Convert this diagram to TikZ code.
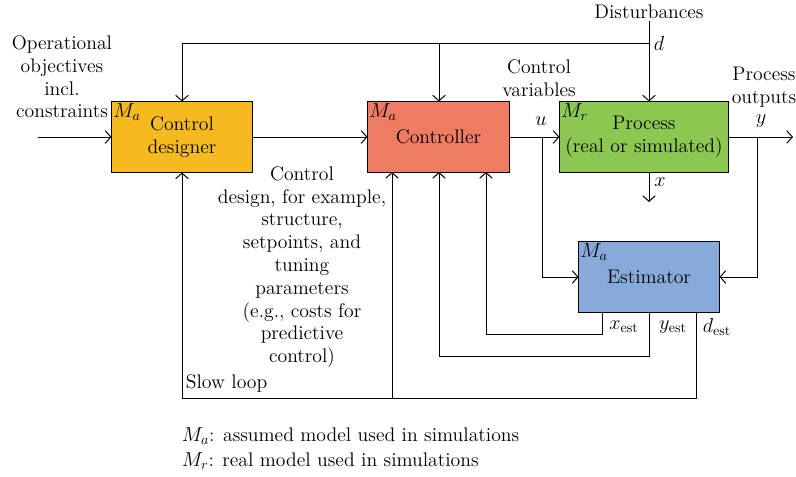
\documentclass[tikz,border=0pt]{standalone}
\usepackage{tikz}
\usetikzlibrary{arrows.meta}

\definecolor{desfill}{HTML}{F5BA1F}
\definecolor{ctrlfill}{HTML}{EE7C62}
\definecolor{procfill}{HTML}{8CC751}
\definecolor{estfill}{HTML}{88AADA}

\begin{document}
\begin{tikzpicture}[x=0.025cm, y=-0.025cm, line width=0.7pt, >={Straight Barb[length=4pt,width=9pt]},
  every node/.style={font=\fontsize{14}{16.2}\selectfont, inner sep=1pt},
  block/.style={draw, minimum height=1.75cm, align=center}]

\useasboundingbox (0,0) rectangle (796,477);

% blocks
\node[block, fill=desfill, minimum width=3.5cm] (des) at (182,137) {Control\\designer};
\node[block, fill=ctrlfill, minimum width=3.525cm] (ctrl) at (438.5,137) {Controller};
\node[block, fill=procfill, minimum width=4.2cm] (proc) at (644,137) {Process\\(real or simulated)};
\node[block, fill=estfill, minimum width=3.5cm] (est) at (649,277) {Estimator};

\node[anchor=north west] (mdes) at (des.north west) {$M_a$};
\node[anchor=north west] (mctrl) at (ctrl.north west) {$M_a$};
\node[anchor=north west] (mproc) at (proc.north west) {$M_r$};
\node[anchor=north west] (mest) at (est.north west) {$M_a$};

% texts
\node[align=center] (ops) at (62,77) {Operational\\objectives\\incl.\\constraints};
\node (dist) at (649,12) {Disturbances};
\node[align=center] (cvar) at (539,78) {Control\\variables};
\node[align=center] (pout) at (764,87) {Process\\outputs};
\node[align=center] (cdes) at (302,267) {Control\\design, for example,\\structure,\\setpoints, and\\tuning\\parameters\\(e.g., costs for\\predictive\\control)};
\node[anchor=west] (slow) at (184,383) {Slow loop};

\node (ld) at (659,43) {$d$};
\node (lu) at (541,121) {$u$};
\node (ly) at (761,121) {$y$};
\node (lx) at (660,182) {$x$};
\node (lxe) at (624,327) {$x_{\mathrm{est}}$};
\node (lye) at (673,327) {$y_{\mathrm{est}}$};
\node (lde) at (717,327) {$d_{\mathrm{est}}$};

\node[anchor=west] (leg1) at (180,436) {$M_a$: assumed model used in simulations};
\node[anchor=west] (leg2) at (180,461) {$M_r$: real model used in simulations};

% junctions
\coordinate (dj) at (649,43);
\coordinate (uj) at (542,137);
\coordinate (yj) at (757,137);
\coordinate (in) at (38,137);
\coordinate (out) at (793,137);
\coordinate (xo) at (649,202);
\coordinate (xe) at (602,334);
\coordinate (ye) at (649,356);
\coordinate (de) at (696,398);
\coordinate (cb1) at (392,172);
\coordinate (cb2) at (439,172);
\coordinate (cb3) at (486,172);

% connectors
\draw[->] (dist.south) -- (proc.north -| dj);
\draw[->] (dj) -| (des.north);
\draw[->] (cb2 |- dj) -- (cb2 |- ctrl.north);
\draw[->] (in) -- (des.west);
\draw[->] (des) -- (ctrl);
\draw[->] (ctrl) -- (proc);
\draw[->] (uj) |- (est.west);
\draw[->] (proc.east) -- (out);
\draw[->] (yj) |- (est.east);
\draw[->] (proc.south -| dj) -- (xo);
\draw[->] (est.south -| xe) -- (xe) -| (cb3);
\draw[->] (est.south) -- (ye) -| (cb2);
\draw[->] (est.south -| de) -- (de) -| (des.south);
\draw[->] (de -| cb1) -- (cb1);

\end{tikzpicture}
\end{document}
